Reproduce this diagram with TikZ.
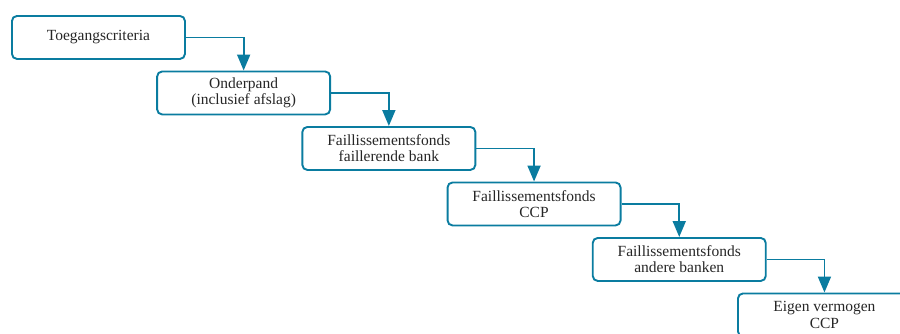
\documentclass[tikz,border=0pt]{standalone}
\usepackage{fontspec}
\setmainfont{Liberation Serif}
\usetikzlibrary{arrows.meta}
\definecolor{teal1}{RGB}{10,124,160}
\begin{document}
\begin{tikzpicture}[x=1pt,y=1pt,
  stepbox/.style={draw=teal1, line width=1.9pt, rounded corners=5pt, minimum width=173pt, minimum height=43pt, inner sep=0pt, align=center, font=\fontsize{15.5}{16.2}\selectfont, text=black!85, anchor=north west},
  flow/.style={draw=teal1, line width=1.9pt, -{Triangle[width=13pt,length=16pt]}}]
\useasboundingbox (0,0) rectangle (900,-333);
\clip (0,0) rectangle (900,-333);
\node[stepbox] (b1) at (11,-15) {Toegangscriteria};
\node[stepbox] (b2) at (156.2,-70.5) {Onderpand\\(inclusief afslag)};
\node[stepbox] (b3) at (301.4,-126) {Faillissementsfonds\\faillerende bank};
\node[stepbox] (b4) at (446.6,-181.5) {Faillissementsfonds\\CCP};
\node[stepbox] (b5) at (591.8,-237) {Faillissementsfonds\\andere banken};
\node[stepbox] (b6) at (737,-292.5) {Eigen vermogen\\CCP};
\draw[flow] (b1.east) -| (b2.north);
\draw[flow] (b2.east) -| (b3.north);
\draw[flow] (b3.east) -| (b4.north);
\draw[flow] (b4.east) -| (b5.north);
\draw[flow] (b5.east) -| (b6.north);
\end{tikzpicture}
\end{document}
